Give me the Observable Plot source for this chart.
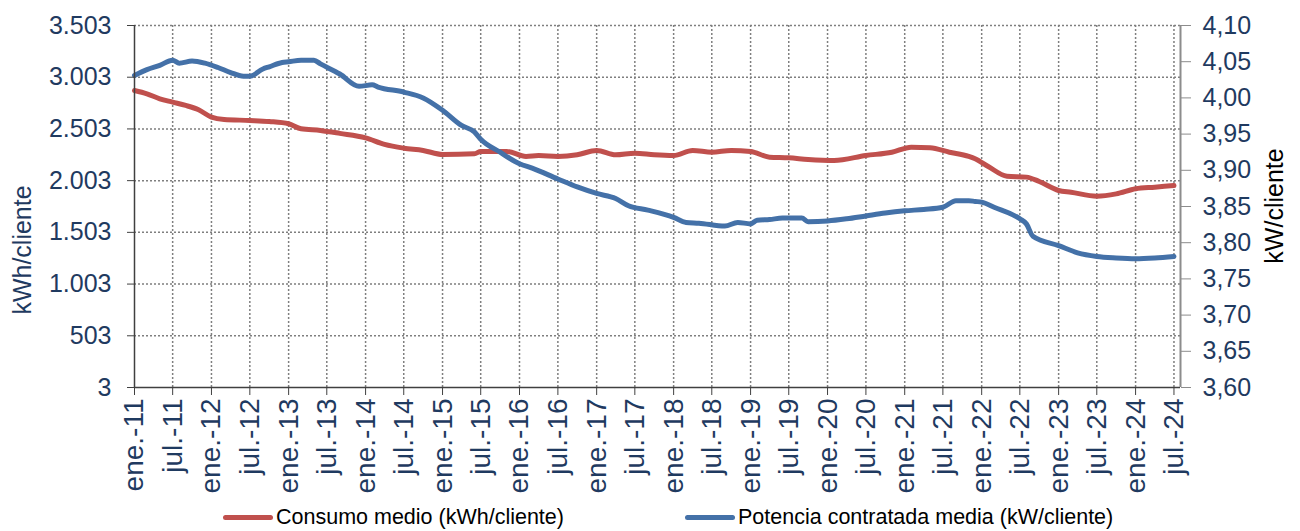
<!DOCTYPE html>
<html>
<head>
<meta charset="utf-8">
<script src="https://cdn.jsdelivr.net/npm/d3@7"></script>
<script src="https://cdn.jsdelivr.net/npm/@observablehq/plot@0.6"></script>
<style>
  html, body { margin: 0; padding: 0; background: #fff; }
  #wrap { position: relative; width: 1300px; height: 531px; font-family: "Liberation Sans", Arial, sans-serif; }
  .leg { position: absolute; top: 502px; height: 31px; display: flex; align-items: center; font-size: 21.5px; color: #000; white-space: nowrap; }
  .sw { width: 50px; height: 5px; border-radius: 3px; margin-right: 3px; }
</style>
</head>
<body>
<div id="wrap"></div>
<script>
// ---- Data ----
const consumoFechas = ["2011-01","2011-03","2011-05","2011-07","2011-09","2011-11",
  "2012-01","2012-03","2012-07","2012-10","2013-01","2013-03","2013-06","2013-09",
  "2014-01","2014-04","2014-07","2014-10","2015-01","2015-06","2015-07","2015-11",
  "2016-02","2016-04","2016-07","2016-10","2017-01","2017-04","2017-07","2017-10",
  "2018-01","2018-04","2018-07","2018-10","2019-01","2019-04","2019-07","2019-10",
  "2020-02","2020-07","2020-11","2021-02","2021-05","2021-08","2021-11","2021-12",
  "2022-02","2022-05","2022-08","2022-10","2023-01","2023-03","2023-07","2023-10",
  "2024-01","2024-04","2024-07"];
const consumoValores = [2875,2843,2794,2762,2730,2688,
  2617,2594,2585,2575,2553,2504,2488,2460,
  2417,2353,2317,2295,2256,2263,2285,2285,
  2237,2246,2237,2253,2295,2253,2269,2253,
  2246,2295,2278,2295,2285,2230,2224,2208,
  2198,2246,2278,2327,2321,2278,2237,2214,
  2140,2046,2037,1995,1908,1891,1853,1875,
  1924,1940,1956];

const potenciaFechas = ["2011-01","2011-03","2011-05","2011-07","2011-08","2011-10","2011-12",
  "2012-02","2012-04","2012-06","2012-07","2012-09","2012-10","2012-12",
  "2013-01","2013-03","2013-05","2013-06","2013-09","2013-12",
  "2014-02","2014-03","2014-07","2014-10",
  "2015-01","2015-04","2015-06","2015-07","2015-10",
  "2016-01","2016-03","2016-07","2016-10",
  "2017-01","2017-04","2017-06","2017-09",
  "2018-01","2018-03","2018-05","2018-09","2018-11",
  "2019-01","2019-02","2019-04","2019-06","2019-09","2019-10",
  "2020-01","2020-04","2020-07","2020-10",
  "2021-01","2021-04","2021-07","2021-09","2021-11","2021-12",
  "2022-01","2022-03","2022-07","2022-08","2022-09",
  "2023-01","2023-04","2023-07","2023-10",
  "2024-01","2024-04","2024-07"];
const potenciaValores = [4.031,4.039,4.045,4.052,4.048,4.051,4.048,
  4.042,4.035,4.030,4.030,4.040,4.043,4.049,
  4.050,4.052,4.052,4.047,4.033,4.016,
  4.018,4.015,4.008,4.000,
  3.983,3.962,3.953,3.943,3.925,
  3.909,3.903,3.888,3.877,
  3.868,3.861,3.851,3.845,
  3.835,3.828,3.827,3.823,3.828,
  3.826,3.831,3.832,3.834,3.834,3.829,
  3.830,3.833,3.837,3.841,
  3.844,3.846,3.849,3.858,3.858,3.857,
  3.856,3.849,3.833,3.826,3.809,
  3.796,3.786,3.781,3.779,
  3.778,3.779,3.781];

const leftTicks = [3, 503, 1003, 1503, 2003, 2503, 3003, 3503];
const rightTicks = [3.60, 3.65, 3.70, 3.75, 3.80, 3.85, 3.90, 3.95, 4.00, 4.05, 4.10];
const mesesEtiqueta = {0: "ene.", 6: "jul."};
const seriesNames = ["Consumo medio (kWh/cliente)", "Potencia contratada media (kW/cliente)"];
const leftTitle = "kWh/cliente";
const rightTitle = "kW/cliente";

// ---- Build ----
const parse = d3.utcParse("%Y-%m");
const consumo = consumoFechas.map((f, i) => ({date: parse(f), value: consumoValores[i]}));
const potencia = potenciaFechas.map((f, i) => ({date: parse(f), value: potenciaValores[i]}));

const L0 = leftTicks[0], L1 = leftTicks[leftTicks.length - 1];
const R0 = rightTicks[0], R1 = rightTicks[rightTicks.length - 1];
const toLeft = v => L0 + (v - R0) / (R1 - R0) * (L1 - L0);
const toRight = v => R0 + (v - L0) / (L1 - L0) * (R1 - R0);

const loc = d3.formatLocale({decimal: ",", thousands: ".", grouping: [3], currency: ["", "€"]});
const fmtLeft = loc.format(",d");
const fmtRight = loc.format(".2f");

const xStart = parse("2011-01"), xEnd = parse("2024-08");
const xTicks = d3.utcMonth.every(6).range(xStart, xEnd);
const fmtX = d => mesesEtiqueta[d.getUTCMonth()] + "-" + d3.utcFormat("%y")(d);

const navy = "#1f3a60";
const red = "#c0504d";
const blue = "#4471a8";
const grid = {stroke: "#7f7f7f", strokeOpacity: 1, strokeWidth: 1.5, strokeDasharray: "2,2"};

const chart = Plot.plot({
  width: 1300, height: 500,
  marginLeft: 134, marginRight: 120, marginTop: 25, marginBottom: 113,
  style: {fontFamily: "'Liberation Sans', Arial, sans-serif", fontSize: "25px", background: "#fff", overflow: "visible"},
  x: {type: "utc", domain: [xStart, xEnd]},
  y: {domain: [L0, L1]},
  marks: [
    Plot.gridY(leftTicks.slice(1), grid),
    Plot.gridX(xTicks.slice(1), grid),
    Plot.line(consumo, {x: "date", y: "value", stroke: red, strokeWidth: 5, curve: "monotone-x"}),
    Plot.line(potencia, {x: "date", y: d => toLeft(d.value), stroke: blue, strokeWidth: 5, curve: "monotone-x"}),
    Plot.ruleX([xStart], {stroke: "#404040", strokeWidth: 1.5}),
    Plot.ruleY([L0], {stroke: "#404040", strokeWidth: 1.5}),
    Plot.ruleX([xEnd], {stroke: "#8c8c8c", strokeWidth: 2}),
    Plot.axisY(leftTicks, {anchor: "left", tickSize: 7, tickPadding: 16, tickFormat: fmtLeft, fill: navy, stroke: "#404040", label: null}),
    Plot.axisY(rightTicks.map(toLeft), {anchor: "right", tickSize: 10, tickPadding: 12, tickFormat: v => fmtRight(toRight(v)), fill: navy, stroke: "#8c8c8c", label: null}),
    Plot.axisX(xTicks, {anchor: "bottom", tickRotate: -90, tickSize: 8, tickPadding: 3, tickFormat: fmtX, fill: navy, stroke: "#404040", fontSize: 28, label: null})
  ]
});

const wrap = document.getElementById("wrap");
wrap.appendChild(chart);

// Axis titles (rotated), placed relative to the plot frame
const svg = d3.select(chart);
const yScale = chart.scale("y");
const midY = (yScale.range[0] + yScale.range[1]) / 2;
svg.append("text")
  .attr("transform", `translate(22,${midY + 44}) rotate(-90)`)
  .attr("text-anchor", "middle").attr("dy", "0.35em")
  .attr("fill", navy).attr("font-size", 25)
  .text(leftTitle);
svg.append("text")
  .attr("transform", `translate(1274,${midY}) rotate(-90)`)
  .attr("text-anchor", "middle").attr("dy", "0.35em")
  .attr("fill", "#000").attr("font-size", 25)
  .text(rightTitle);

const legItems = [{name: seriesNames[0], color: red, left: 223}, {name: seriesNames[1], color: blue, left: 685}];
for (const it of legItems) {
  const d = document.createElement("div");
  d.className = "leg";
  d.style.left = it.left + "px";
  const sw = document.createElement("span");
  sw.className = "sw";
  sw.style.background = it.color;
  const t = document.createElement("span");
  t.textContent = it.name;
  d.appendChild(sw); d.appendChild(t);
  wrap.appendChild(d);
}
</script>
</body>
</html>
